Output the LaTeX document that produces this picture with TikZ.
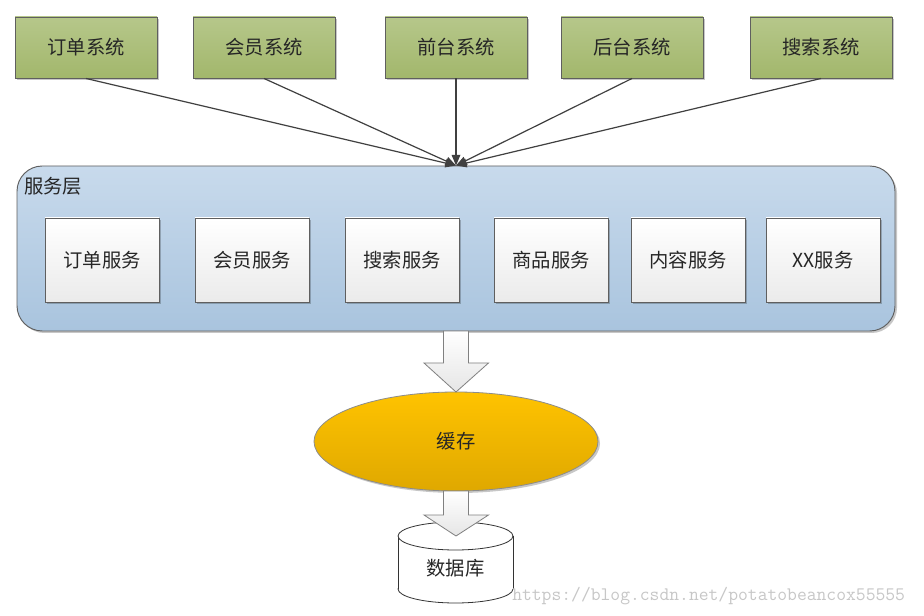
\documentclass[tikz,border=0pt]{standalone}
\usepackage{fontspec}
\setmainfont{Noto Sans CJK SC}
\usepackage{tikz}
\usetikzlibrary{arrows.meta,shapes.geometric,shadows}

\definecolor{olivetop}{HTML}{B6C78A}
\definecolor{olivebot}{HTML}{A2B76C}
\definecolor{bluetop}{HTML}{C8DAEC}
\definecolor{bluebot}{HTML}{A9C4DE}
\definecolor{goldtop}{HTML}{FFC300}
\definecolor{goldbot}{HTML}{DFA800}
\definecolor{edgegray}{HTML}{5F5F5F}

\tikzset{
  txt/.style={font=\fontsize{14.5}{16}\selectfont,text=black!85},
  shd/.style={drop shadow={shadow xshift=1.5pt,shadow yshift=-1.5pt,fill=black,opacity=0.22}},
  sys/.style={txt,shd,draw=edgegray,line width=0.7pt,top color=olivetop,bottom color=olivebot,
    minimum width=106.5pt,minimum height=45.75pt,inner sep=0pt},
  svc/.style={txt,shd,draw=edgegray,line width=0.7pt,top color=white,bottom color=black!8,
    minimum width=85.5pt,minimum height=63pt,inner sep=0pt},
  layer/.style={shd,draw=edgegray,line width=0.7pt,top color=bluetop,bottom color=bluebot,
    rounded corners=19pt,minimum width=658.5pt,minimum height=123.75pt,inner sep=0pt},
  cache/.style={txt,shd,ellipse,draw=black!45,line width=0.6pt,top color=goldtop,bottom color=goldbot,
    minimum width=213pt,minimum height=74.25pt,inner sep=0pt},
  blockarrow/.style={draw=black!50,line width=0.6pt,top color=white,bottom color=black!10},
  dbedge/.style={draw=black!80,line width=0.6pt,fill=white},
  conn/.style={draw=black!75,line width=0.9pt,-{Triangle[length=8pt,width=6.5pt]}}
}

\begin{document}
\begin{tikzpicture}[x=0.75pt,y=-0.75pt]
\fill[white] (0,0) rectangle (924,616);
\useasboundingbox (0,0) rectangle (924,616);

\node[sys] (dingdan) at (86,47.5) {订单系统};
\node[sys] (huiyuan) at (264,47.5) {会员系统};
\node[sys] (qiantai) at (456,47.5) {前台系统};
\node[sys] (houtai) at (632,47.5) {后台系统};
\node[sys] (sousuo) at (821,47.5) {搜索系统};

\node[layer] (fuwu) at (456,248.5) {};
\node[txt,anchor=west,inner sep=0pt] (fuwulabel) at (24,186) {服务层};

\node[svc] (s1) at (102,260) {订单服务};
\node[svc] (s2) at (252,260) {会员服务};
\node[svc] (s3) at (402,260) {搜索服务};
\node[svc] (s4) at (551,260) {商品服务};
\node[svc] (s5) at (688,260) {内容服务};
\node[svc] (s6) at (823,260) {XX服务};

\foreach \src in {dingdan,huiyuan,qiantai,houtai,sousuo}
  \draw[conn] (\src.south) -- (fuwu.north);

\node[cache] (huancun) at (456,441.5) {缓存};
\draw[blockarrow] (443.5,331) -- (443.5,363) -- (424,363) -- (456,392) -- (488.5,363) -- (468.5,363) -- (468.5,331) -- cycle;

\draw[dbedge] (455.5,589) ellipse [x radius=43.1pt,y radius=10.5pt];
\fill[white] (398,536) rectangle (513,589);
\draw[black!80,line width=0.6pt] (398,536) -- (398,589) (513,536) -- (513,589);
\draw[dbedge] (455.5,536) ellipse [x radius=43.1pt,y radius=10.5pt];
\node[txt] (shujuku) at (455.5,568) {数据库};
\draw[blockarrow] (443.5,491) -- (443.5,515) -- (424,515) -- (456,536) -- (488.5,515) -- (468.5,515) -- (468.5,491) -- cycle;

\node[anchor=west,inner sep=0pt,text=black!22,font=\fontsize{14.3}{16}\ttfamily] (mark) at (512,596) {https://blog.csdn.net/potatobeancox55555};
\end{tikzpicture}
\end{document}
